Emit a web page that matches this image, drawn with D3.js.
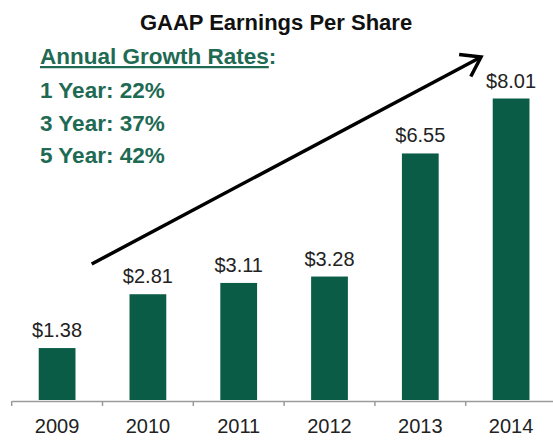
<!DOCTYPE html>
<html>
<head>
<meta charset="utf-8">
<script src="https://cdn.jsdelivr.net/npm/d3@7"></script>
<style>
  body { margin: 0; background: #fff; }
  svg { display: block; font-family: "Liberation Sans", Arial, Helvetica, sans-serif; }
</style>
</head>
<body>
<div id="chart"></div>
<script>
// chart data
const years = ["2009", "2010", "2011", "2012", "2013", "2014"];
const eps = [1.38, 2.81, 3.11, 3.28, 6.55, 8.01];
const growthLabels = ["1 Year: 22%", "3 Year: 37%", "5 Year: 42%"];

const width = 553,
  height = 440,
  baseY = 400,
  green = "#0b5c47",
  textGreen = "#1e6a53";

const svg = d3
  .select("#chart")
  .append("svg")
  .attr("width", width)
  .attr("height", height);

// scales
const x = d3
  .scaleBand()
  .domain(years)
  .range([11.7, 556.5])
  .paddingInner(0.595)
  .paddingOuter(0.2975);

const y = d3.scaleLinear().domain([0, 8.01]).range([baseY, 98.5]);

// title
svg
  .append("text")
  .attr("x", 276)
  .attr("y", 30)
  .attr("text-anchor", "middle")
  .style("font-size", "22px")
  .style("font-weight", "bold")
  .style("fill", "#111")
  .text("GAAP Earnings Per Share");

// growth rates block
const head = svg
  .append("text")
  .attr("x", 40)
  .attr("y", 64)
  .style("font-size", "22.5px")
  .style("font-weight", "bold")
  .style("fill", textGreen);
head.append("tspan").style("text-decoration", "underline").text("Annual Growth Rates");
head.append("tspan").text(":");

svg
  .selectAll(".growth")
  .data(growthLabels)
  .join("text")
  .attr("class", "growth")
  .attr("x", 40)
  .attr("y", (d, i) => 98 + i * 32.7)
  .style("font-size", "22.5px")
  .style("font-weight", "bold")
  .style("fill", textGreen)
  .text((d) => d);

// bars
svg
  .selectAll(".bar")
  .data(eps)
  .join("rect")
  .attr("class", "bar")
  .attr("x", (d, i) => x(years[i]))
  .attr("y", (d) => y(d))
  .attr("width", x.bandwidth())
  .attr("height", (d) => y(0) - y(d))
  .style("fill", green);

// value labels
svg
  .selectAll(".val")
  .data(eps)
  .join("text")
  .attr("class", "val")
  .attr("x", (d, i) => x(years[i]) + x.bandwidth() / 2)
  .attr("y", (d) => y(d) - 11)
  .attr("text-anchor", "middle")
  .style("font-size", "20px")
  .style("fill", "#222")
  .text((d) => "$" + d.toFixed(2));

// x axis
const xAxis = svg
  .append("g")
  .attr("transform", `translate(0, ${baseY + 1})`)
  .call(d3.axisBottom(x).tickSize(0).tickPadding(18));
xAxis.select(".domain").attr("stroke", "#9a9a9a").attr("stroke-width", 1.5);
xAxis
  .selectAll("text")
  .style("font-size", "20px")
  .style("fill", "#222")
  .style("font-family", "'Liberation Sans', Arial, sans-serif");

// ticks at band boundaries
const half = (x.step() * x.paddingInner()) / 2;
xAxis
  .selectAll(".bound")
  .data(years)
  .join("line")
  .attr("class", "bound")
  .attr("x1", (d) => x(d) - half)
  .attr("x2", (d) => x(d) - half)
  .attr("y1", 0)
  .attr("y2", 5)
  .attr("stroke", "#9a9a9a")
  .attr("stroke-width", 1.5);

// trend arrow
const x0 = 91.7, y0 = 264, x1 = 481, y1 = 57;
const ang = Math.atan2(y1 - y0, x1 - x0);
const headLen = 22, spread = 0.6;
svg
  .append("line")
  .attr("x1", x0)
  .attr("y1", y0)
  .attr("x2", x1 - 2 * Math.cos(ang))
  .attr("y2", y1 - 2 * Math.sin(ang))
  .attr("stroke", "#000")
  .attr("stroke-width", 3.5);
svg
  .append("path")
  .attr(
    "d",
    d3.line()([
      [x1 - headLen * Math.cos(ang - spread), y1 - headLen * Math.sin(ang - spread)],
      [x1, y1],
      [x1 - headLen * Math.cos(ang + spread), y1 - headLen * Math.sin(ang + spread)]
    ])
  )
  .attr("fill", "none")
  .attr("stroke", "#000")
  .attr("stroke-width", 3.5)
  .attr("stroke-linejoin", "miter");
</script>
</body>
</html>
